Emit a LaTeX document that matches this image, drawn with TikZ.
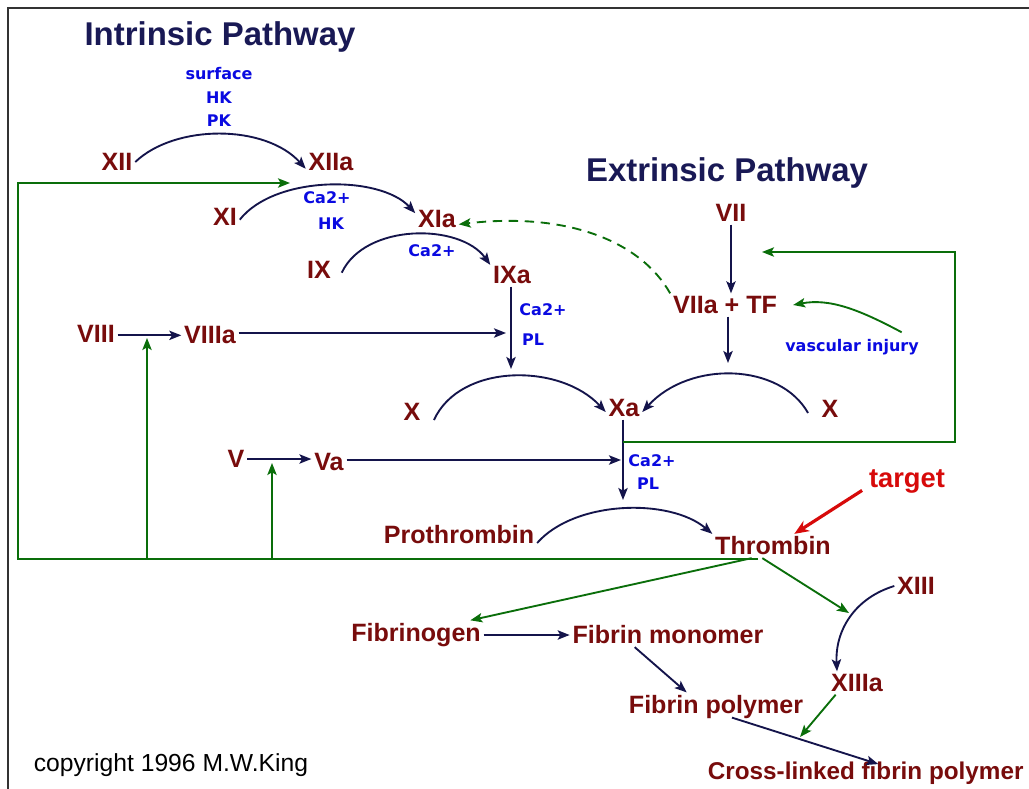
\documentclass[tikz,border=0pt]{standalone}
\usepackage{fontspec}
\setmainfont{Liberation Sans}
\newfontfamily\cofont{DejaVu Sans}
\usetikzlibrary{arrows.meta}

\definecolor{factor}{RGB}{120,12,12}
\definecolor{cofactor}{RGB}{10,10,225}
\definecolor{heading}{RGB}{25,25,85}
\definecolor{react}{RGB}{20,20,75}
\definecolor{feedback}{RGB}{10,110,10}
\definecolor{alert}{RGB}{215,10,10}

\tikzset{
  factornode/.style={text=factor, font=\fontsize{18.8}{20}\selectfont\bfseries, inner sep=2pt},
  cofnode/.style={text=cofactor, font=\cofont\fontsize{12}{13}\selectfont\bfseries, inner sep=1pt},
  headnode/.style={text=heading, font=\fontsize{24.7}{28}\selectfont\bfseries, inner sep=0pt},
  tip/.style={-{Stealth[length=9pt,width=7pt,inset=2pt]}},
  rx/.style={draw=react, line width=1.4pt, tip},
  fb/.style={draw=feedback, line width=1.4pt, tip},
}

\begin{document}
\begin{tikzpicture}[x=0.75pt,y=-0.75pt]
\useasboundingbox (0,0) rectangle (1029,789);
\clip (0,0) rectangle (1029,789);
\fill[white] (0,0) rectangle (1029,789);

% frame
\draw[line width=1.5pt, black!80] (8,789) -- (8,8) -- (1029,8);

% headings
\node[headnode] (intr) at (220,37) {Intrinsic Pathway};
\node[headnode] (extr) at (727,173) {Extrinsic Pathway};

% cofactors
\node[cofnode] (surf) at (219,74) {surface};
\node[cofnode] (hka) at (219,98) {HK};
\node[cofnode] (pk) at (219,121) {PK};
\node[cofnode] (caa) at (327,198) {Ca2+};
\node[cofnode] (hkb) at (331,224) {HK};
\node[cofnode] (cab) at (432,251) {Ca2+};
\node[cofnode] (cac) at (543,310) {Ca2+};
\node[cofnode] (plc) at (533,340) {PL};
\node[cofnode] (cad) at (652,461) {Ca2+};
\node[cofnode] (pld) at (648,484) {PL};
\node[cofnode] (vasc) at (852,347) {vascular injury};

% factors
\node[factornode] (XII) at (117,162) {XII};
\node[factornode] (XIIa) at (331,162) {XIIa};
\node[factornode] (XI) at (225,217) {XI};
\node[factornode] (XIa) at (437,219) {XIa};
\node[factornode] (IX) at (319,270) {IX};
\node[factornode] (IXa) at (512,275) {IXa};
\node[factornode] (VII) at (731,213) {VII};
\node[factornode] (VIIaTF) at (725,305) {VIIa + TF};
\node[factornode] (VIII) at (96,334) {VIII};
\node[factornode] (VIIIa) at (210,335) {VIIIa};
\node[factornode] (XL) at (412,412) {X};
\node[factornode] (Xa) at (624,408) {Xa};
\node[factornode] (XR) at (830,409) {X};
\node[factornode] (V) at (236,459) {V};
\node[factornode] (Va) at (329,462) {Va};
\node[factornode] (proth) at (459,535) {Prothrombin};
\node[factornode] (thromb) at (773,546) {Thrombin};
\node[factornode] (XIII) at (916,586) {XIII};
\node[factornode] (fbgn) at (416,635) {Fibrinogen};
\node[factornode] (fmono) at (668,635) {Fibrin monomer};
\node[factornode] (XIIIa) at (857,683) {XIIIa};
\node[factornode] (fpoly) at (716,707) {Fibrin polymer};
\node[factornode, font=\fontsize{18.2}{20}\selectfont\bfseries, anchor=west] (xlink) at (705,773) {Cross-linked fibrin polymer};
\node[text=alert, font=\fontsize{20.5}{22}\selectfont\bfseries, inner sep=1pt] (target) at (907,481) {target};
\node[font=\fontsize{18.5}{20}\selectfont, inner sep=0pt] (copy) at (171,765) {copyright 1996 M.W.King};

% junction points on connectors
\coordinate (xiin) at (290,183);
\coordinate (thrbase) at (758,559);
\coordinate (loopL) at (18,559);
\coordinate (loopT) at (18,183);
\coordinate (viiibase) at (147,559);
\coordinate (viiitip) at (147,338);
\coordinate (vbase) at (272,559);
\coordinate (vtip) at (272,463);
\coordinate (ixstem) at (511,369);
\coordinate (viiiatip) at (506,333);
\coordinate (xastem) at (623,442);
\coordinate (vatip) at (621,460);
\coordinate (xastemtip) at (623,500);
\coordinate (loopR1) at (955,442);
\coordinate (loopR2) at (955,252);
\coordinate (loopRtip) at (762,252);
\coordinate (xrtip) at (728,363);
\coordinate (xiiitip) at (849,613);
\coordinate (polylink) at (800,737);

% intrinsic cascade
\draw[rx] (XII.east) .. controls (175,124) and (265,124) .. (XIIa.195);
\draw[rx] ([yshift=-2pt]XI.east) .. controls (275,175) and (380,175) .. (XIa.165);
\draw[rx] ([xshift=6pt,yshift=-2pt]IX.east) .. controls (365,223) and (460,223) .. (IXa.155);
\draw[rx] (IXa.south -| ixstem) -- (ixstem);
\draw[rx] ([yshift=-1pt]VIII.east) -- ([yshift=-1pt]VIII.east -| VIIIa.west);
\draw[rx] (VIIIa.east |- viiiatip) -- (viiiatip);

% extrinsic
\draw[rx] (VII.south) -- (VII.south |- VIIaTF.north);
\draw[rx] (VIIaTF.south -| xrtip) -- (xrtip);
\draw[rx] ([xshift=-8pt,yshift=-3pt]XR.west) .. controls (780,363) and (690,360) .. ([yshift=-3pt]Xa.east);
\draw[rx] ([xshift=8pt,yshift=-6pt]XL.east) .. controls (460,363) and (560,363) .. ([yshift=-3pt]Xa.west);
\draw[fb] ([xshift=-14pt,yshift=4pt]vasc.north east) .. controls (860,310) and (830,298) .. ([xshift=10pt]VIIaTF.east);
\draw[feedback, line width=1.4pt, dash pattern=on 7pt off 5pt, tip]
  (VIIaTF.north west) .. controls (640,240) and (565,212) .. ([yshift=-4pt]XIa.east);

% common pathway
\draw[rx] (V.east) -- (V.east -| Va.west);
\draw[rx] (Va.east |- vatip) -- (vatip);
\draw[rx] (Xa.south -| xastem) -- (xastemtip);
\draw[rx] ([yshift=-6pt]proth.east) .. controls (575,500) and (670,498) .. (thromb.north west);
\draw[alert, line width=2.4pt, -{Stealth[length=11pt,width=9pt]}] ([xshift=-4pt,yshift=3pt]target.south west) -- ([xshift=16pt]thromb.north);

% thrombin feedback
\draw[fb] (thrbase) -- (loopL) -- (loopT) -- (xiin);
\draw[fb] (viiibase) -- (viiitip);
\draw[fb] (vbase) -- (vtip);
\draw[fb] (xastem) -- (loopR1) -- (loopR2) -- (loopRtip);

% fibrin formation
\draw[fb] ([xshift=-16pt]thromb.south) -- ([xshift=-10pt]fbgn.north east);
\draw[fb] ([xshift=-8pt]thromb.south) -- (xiiitip);
\draw[rx] (XIII.west) .. controls (855,598) and (835,630) .. (XIIIa.north -| 837,0);
\draw[rx] (fbgn.east) -- (fmono.west);
\draw[rx] ([xshift=-25pt]fmono.south) -- ([xshift=-22pt]fpoly.north);
\draw[rx] ([xshift=12pt,yshift=3pt]fpoly.south) -- ([xshift=130pt,yshift=-4pt]xlink.north west);
\draw[fb] ([xshift=-16pt]XIIIa.south) -- (polylink);
\end{tikzpicture}
\end{document}
